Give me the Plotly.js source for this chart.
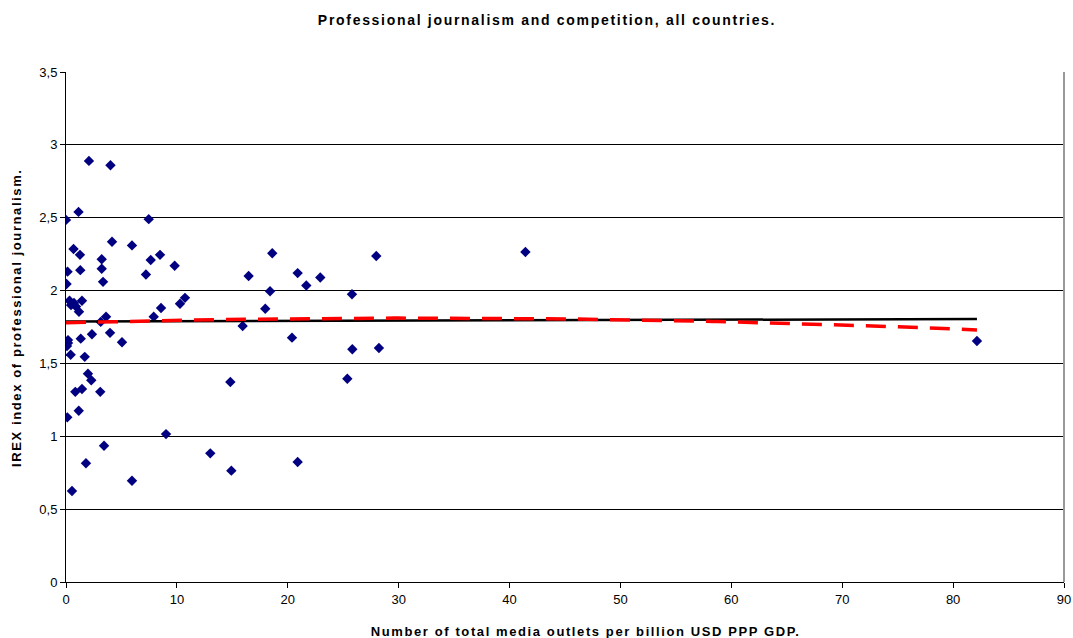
<!DOCTYPE html>
<html>
<head>
<meta charset="utf-8">
<script src="https://cdn.plot.ly/plotly-3.0.1.min.js"></script>
<style>
html,body{margin:0;padding:0;background:#fff;}
#chart{width:1073px;height:638px;}
#chart .gtitle{letter-spacing:1.7px;}
#chart .annotation-text{letter-spacing:1.6px;}
</style>
</head>
<body>
<div id="chart"></div>
<script>
// Number of total media outlets per billion USD PPP GDP
const outlets = [
  0.0, 0.14, 0.05, 0.32, 0.45, 0.72, 0.9, 1.17, 1.44, 0.68,
  1.13, 1.26, 1.29, 0.18, 0.18, 0.09, 1.33, 0.42, 1.69, 1.98,
  2.28, 0.84, 1.44, 3.09, 0.12, 1.15, 0.54, 1.8, 2.34, 2.07,
  4.01, 3.22, 3.22, 3.34, 3.43, 3.13, 3.61, 3.97, 4.15, 5.05,
  5.95, 5.95, 7.21, 7.46, 7.64, 7.91, 8.48, 8.57, 9.02, 9.8,
  10.28, 10.73, 16.47, 20.89, 21.67, 22.93, 18.4, 25.79, 17.97, 15.93,
  20.38, 25.82, 28.22, 14.82, 25.37, 13.01, 14.91, 20.89, 18.6, 27.98,
  41.43, 82.15
];
// IREX index of professional journalism
const irex = [
  2.485, 2.13, 2.045, 1.93, 1.90, 1.915, 1.89, 1.855, 1.93, 2.285,
  2.54, 2.245, 2.14, 1.66, 1.64, 1.62, 1.67, 1.56, 1.545, 1.43,
  1.385, 1.305, 1.325, 1.305, 1.13, 1.175, 0.625, 0.815, 1.70, 2.89,
  2.86, 2.215, 2.15, 2.06, 0.935, 1.785, 1.82, 1.71, 2.335, 1.645,
  2.31, 0.695, 2.11, 2.49, 2.21, 1.82, 2.245, 1.88, 1.015, 2.17,
  1.91, 1.95, 2.10, 2.12, 2.035, 2.09, 1.995, 1.975, 1.875, 1.757,
  1.677, 1.597, 1.606, 1.373, 1.395, 0.883, 0.764, 0.824, 2.256, 2.237,
  2.265, 1.654
];
const yTickVals = [0, 0.5, 1, 1.5, 2, 2.5, 3, 3.5];
const xTickVals = [0, 10, 20, 30, 40, 50, 60, 70, 80, 90];
const chartTitle = 'Professional journalism and competition, all countries.';
const xTitle = 'Number of total media outlets per billion USD PPP GDP.';
const yTitle = 'IREX index of professional journalism.';

// least-squares fits (Excel-style trendlines)
function polyFit(xs, ys, deg) {
  const n = deg + 1;
  const A = Array.from({length: n}, () => new Array(n + 1).fill(0));
  for (let k = 0; k < xs.length; k++) {
    for (let i = 0; i < n; i++) {
      for (let j = 0; j < n; j++) A[i][j] += Math.pow(xs[k], i + j);
      A[i][n] += ys[k] * Math.pow(xs[k], i);
    }
  }
  for (let i = 0; i < n; i++) {
    let p = i;
    for (let r = i + 1; r < n; r++) if (Math.abs(A[r][i]) > Math.abs(A[p][i])) p = r;
    [A[i], A[p]] = [A[p], A[i]];
    for (let r = 0; r < n; r++) {
      if (r === i) continue;
      const f = A[r][i] / A[i][i];
      for (let c = i; c <= n; c++) A[r][c] -= f * A[i][c];
    }
  }
  return A.map((row, i) => row[n] / row[i]);
}
const xmin = Math.min(...outlets), xmax = Math.max(...outlets);
const fitX = [];
for (let i = 0; i <= 200; i++) fitX.push(xmin + (xmax - xmin) * i / 200);
const lin = polyFit(outlets, irex, 1);
const quad = polyFit(outlets, irex, 2);
const linY = fitX.map(x => lin[0] + lin[1] * x);
const quadY = fitX.map(x => quad[0] + quad[1] * x + quad[2] * x * x);

const FONT = 'Liberation Sans, Arial, sans-serif';
const traces = [
  {x: outlets, y: irex, type: 'scatter', mode: 'markers',
   marker: {symbol: 'diamond', size: 8, color: '#000080'}, hoverinfo: 'x+y'},
  {x: fitX, y: linY, type: 'scatter', mode: 'lines',
   line: {color: '#000000', width: 2.5}},
  {x: fitX, y: quadY, type: 'scatter', mode: 'lines',
   line: {color: '#ff0000', width: 3.5, dash: '20px,12px'}}
];

const layout = {
  width: 1073, height: 638,
  margin: {l: 66, r: 9, t: 72, b: 56},
  paper_bgcolor: '#ffffff', plot_bgcolor: '#ffffff',
  separators: ', ',
  showlegend: false,
  font: {family: FONT, size: 13, color: '#000'},
  title: {text: chartTitle,
          xref: 'paper', x: 0.482, xanchor: 'center', y: 0.968, yanchor: 'middle',
          font: {family: FONT, size: 14, weight: 'bold', color: '#000'}},
  xaxis: {
    range: [0, 90], tickvals: xTickVals, ticks: 'outside', ticklen: 5, tickcolor: '#000',
    showgrid: false, zeroline: false, showline: true, linecolor: '#000', linewidth: 1,
    mirror: false, tickfont: {family: FONT, size: 13, color: '#000'}
  },
  yaxis: {
    range: [0, 3.5], tickvals: yTickVals, tickformat: '.1~f', ticks: 'outside', ticklen: 5, tickcolor: '#000',
    showgrid: true, gridcolor: '#000', gridwidth: 1, zeroline: false,
    showline: true, linecolor: '#000', linewidth: 1, tickfont: {family: FONT, size: 13, color: '#000'}
  },
  annotations: [
    {text: xTitle, xref: 'paper', yref: 'paper', x: 0.5205, y: -0.0961,
     xanchor: 'center', yanchor: 'middle', showarrow: false,
     font: {family: FONT, size: 13, weight: 'bold', color: '#000'}},
    {text: yTitle, xref: 'paper', yref: 'paper', x: -0.0491, y: 0.5186, textangle: -90,
     xanchor: 'center', yanchor: 'middle', showarrow: false,
     font: {family: FONT, size: 13, weight: 'bold', color: '#000'}}
  ],
  shapes: [
    {type: 'line', xref: 'paper', yref: 'paper', x0: 1, x1: 1, y0: 0, y1: 1,
     line: {color: '#999', width: 2}}
  ]
};
Plotly.newPlot('chart', traces, layout, {displayModeBar: false, staticPlot: true});
</script>
</body>
</html>
